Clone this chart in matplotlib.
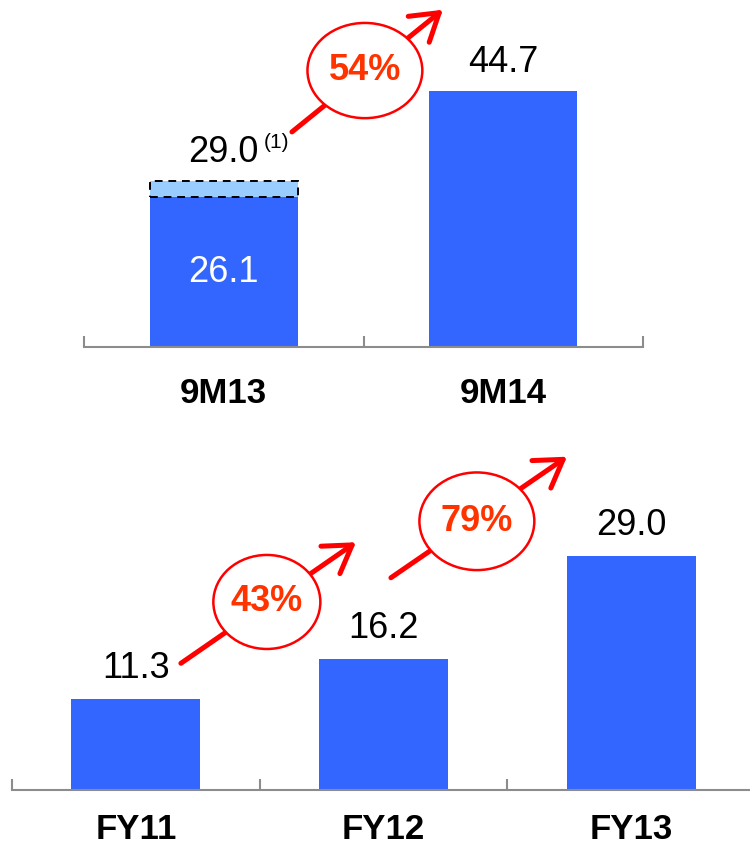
import matplotlib
matplotlib.use("Agg")
import matplotlib.pyplot as plt
from matplotlib.patches import Ellipse

plt.rcParams['font.family'] = ['Liberation Sans', 'DejaVu Sans']

# ---- data ----
top_categories = ["9M13", "9M14"]
top_base = [26.1, 44.7]
top_extra = [2.9, 0.0]          # adjusted portion (dashed box) of 9M13
top_labels = ["29.0", "44.7"]
top_growth = ["54%"]

bot_categories = ["FY11", "FY12", "FY13"]
bot_values = [11.3, 16.2, 29.0]
bot_growth = ["43%", "79%"]

BLUE = "#3366FF"
LIGHT = "#99CCFF"
RED = "#FF0000"
PCT = "#FF3300"
AXIS = "#8C8C8C"
PX = 72 / 100  # points per pixel

fig = plt.figure(figsize=(7.5, 8.48), dpi=100)

def style_axes(ax, cats, label_drop):
    n = len(cats)
    for s in ["top", "right", "left"]:
        ax.spines[s].set_visible(False)
    ax.spines["bottom"].set_color(AXIS)
    ax.spines["bottom"].set_linewidth(1.5)
    ax.set_yticks([])
    ax.set_xlim(-0.5, n - 0.5)
    ax.set_xticks([i - 0.5 for i in range(n + 1)])
    ax.set_xticklabels([])
    ax.tick_params(axis="x", direction="in", length=8, width=1.5, color=AXIS)
    ax.set_facecolor("none")
    for i, c in enumerate(cats):
        ax.annotate(c, (i, 0), xycoords=("data", "axes fraction"),
                    xytext=(0, -label_drop * PX), textcoords="offset points",
                    ha="center", va="baseline", fontsize=25,
                    fontweight="bold", annotation_clip=False)

def growth_arrow(ax, tail, head, center, w, h, txt):
    ax.annotate("", xy=head, xytext=tail, annotation_clip=False,
                arrowprops=dict(arrowstyle="->,head_length=0.95,head_width=0.6",
                                lw=3.6, color=RED, shrinkA=0, shrinkB=0,
                                mutation_scale=20),
                zorder=4)
    e = Ellipse(center, w, h, facecolor="white", edgecolor=RED, lw=1.8,
                zorder=5, clip_on=False)
    ax.add_patch(e)
    ax.text(center[0], center[1], txt, color=PCT, fontsize=26,
            fontweight="bold", ha="center", va="center", zorder=6)

# ---- top panel ----
ax1 = fig.add_axes([84 / 750, (848 - 347) / 848, (643 - 84) / 750, 347 / 848])
x1 = list(range(len(top_categories)))
ax1.bar(x1, top_base, width=0.53, color=BLUE, zorder=2)
ax1.bar(x1, top_extra, bottom=top_base, width=0.53, color=LIGHT,
        edgecolor=["black", "none"], linestyle=(0, (4, 3)), lw=1.4, zorder=3)
ax1.set_ylim(0, 60.5)
style_axes(ax1, top_categories, 56)

# inner label for base of 9M13
ax1.text(0, top_base[0] * 0.5, f"{top_base[0]:.1f}", color="white",
         fontsize=26, ha="center", va="center", zorder=4)
# top labels
for i, (b, e, lab) in enumerate(zip(top_base, top_extra, top_labels)):
    ax1.annotate(lab, (i, b + e), xytext=(0, 19 * PX), textcoords="offset points",
                 ha="center", va="baseline", fontsize=26, zorder=4)
ax1.annotate("(1)", (0, top_base[0] + top_extra[0]), xytext=(40 * PX, 38 * PX),
             textcoords="offset points", ha="left", va="center", fontsize=15)

growth_arrow(ax1, (0.244, 37.5), (0.784, 58.8), (0.505, 48.2), 0.411, 16.6,
             top_growth[0])

# ---- bottom panel ----
ax2 = fig.add_axes([12 / 750, (848 - 790) / 848, 743 / 750, 350 / 848])
x2 = list(range(len(bot_categories)))
ax2.bar(x2, bot_values, width=0.52, color=BLUE, zorder=2)
ax2.set_ylim(0, 350 / 8.07)
style_axes(ax2, bot_categories, 49)
for i, v in enumerate(bot_values):
    ax2.annotate(f"{v:.1f}", (i, v), xytext=(0, 21 * PX), textcoords="offset points",
                 ha="center", va="baseline", fontsize=26, zorder=4)

growth_arrow(ax2, (0.182, 15.7), (0.889, 30.7), (0.529, 23.3), 0.432, 11.65,
             bot_growth[0])
growth_arrow(ax2, (1.030, 26.3), (1.741, 41.3), (1.377, 33.3), 0.464, 12.1,
             bot_growth[1])

fig.savefig("out.png", dpi=100)
